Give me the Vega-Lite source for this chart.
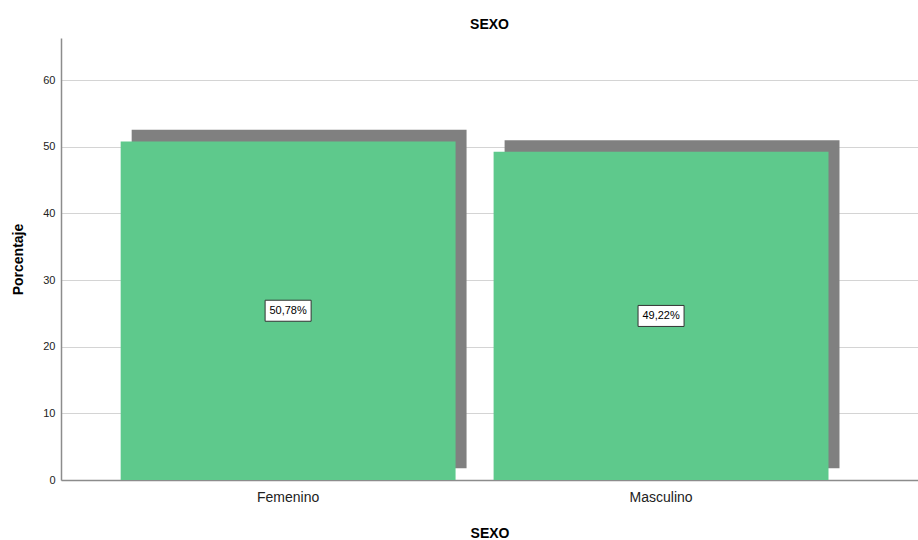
{
  "$schema": "https://vega.github.io/schema/vega-lite/v6.json",
  "width": 857,
  "height": 442,
  "autosize": "none",
  "padding": {"left": 61, "top": 38, "right": 0, "bottom": 60},
  "background": "white",
  "config": {"view": {"stroke": null}},
  "title": {"text": "SEXO", "font": "Liberation Sans", "fontSize": 14, "fontWeight": "bold", "color": "#000000", "offset": 6},
  "data": {"values": [
    {"sexo": "Femenino", "pct": 50.78, "label": "50,78%"},
    {"sexo": "Masculino", "pct": 49.22, "label": "49,22%"}
  ]},
  "transform": [{"calculate": "datum.pct / 2", "as": "mid"}],
  "encoding": {
    "x": {"field": "sexo", "type": "nominal", "sort": null,
      "scale": {"paddingInner": 0.102, "paddingOuter": 0.2, "align": 0.4},
      "axis": {"title": "SEXO", "labelAngle": 0, "labelFont": "Liberation Sans", "labelFontSize": 14, "labelColor": "#222222", "labelPadding": 10,
        "titleFont": "Liberation Sans", "titleFontSize": 14, "titleFontWeight": "bold", "titleColor": "#000000", "titlePadding": 22,
        "ticks": false, "domainColor": "#8c8c8c", "domainWidth": 1.5, "grid": false}}
  },
  "layer": [
    {
      "mark": {"type": "bar", "color": "#808080", "xOffset": 11, "x2Offset": 11, "yOffset": -11.7, "y2Offset": -11.7},
      "encoding": {
        "y": {"field": "pct", "type": "quantitative",
          "scale": {"domain": [0, 66.3], "nice": false},
          "axis": {"title": "Porcentaje", "values": [0, 10, 20, 30, 40, 50, 60], "labelFont": "Liberation Sans", "labelFontSize": 11, "labelColor": "#222222", "labelPadding": 6,
            "titleFont": "Liberation Sans", "titleFontSize": 14, "titleFontWeight": "bold", "titleColor": "#000000", "titlePadding": 17,
            "ticks": false, "domainColor": "#8c8c8c", "domainWidth": 1.5, "grid": true, "gridColor": "#d4d4d4", "gridWidth": 1.2}},
        "y2": {"datum": 0}
      }
    },
    {
      "mark": {"type": "bar", "color": "#5ec98c"},
      "encoding": {
        "y": {"field": "pct", "type": "quantitative"},
        "y2": {"datum": 0}
      }
    },
    {
      "mark": {"type": "point", "shape": "M-1,-0.457L1,-0.457L1,0.457L-1,0.457Z", "size": 2116, "filled": true, "fill": "white", "stroke": "#333333", "strokeWidth": 1, "opacity": 1},
      "encoding": {
        "y": {"field": "mid", "type": "quantitative"}
      }
    },
    {
      "mark": {"type": "text", "font": "Liberation Sans", "fontSize": 11, "color": "#000000", "baseline": "middle", "align": "center"},
      "encoding": {
        "y": {"field": "mid", "type": "quantitative"},
        "text": {"field": "label"}
      }
    }
  ]
}
